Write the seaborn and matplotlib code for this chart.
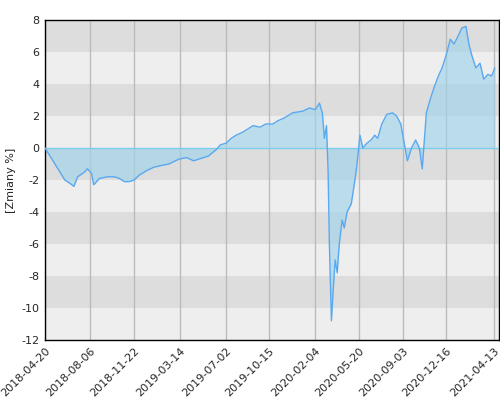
import matplotlib
matplotlib.use("Agg")
import matplotlib.pyplot as plt
import seaborn as sns
import pandas as pd
import numpy as np

start = pd.Timestamp("2018-04-20")
px = [45,50,55,60,65,70,74,78,85,88,92,94,100,108,115,120,125,130,135,140,148,155,162,170,180,188,195,200,210,218,222,228,233,238,245,250,255,262,268,275,280,287,295,305,312,318,322,325,327,329,331,332,334,336,338,340,342,345,347,350,354,358,360,363,366,370,374,378,381,385,390,396,400,404,407,411,415,419,423,426,430,434,438,442,446,450,454,458,462,466,470,473,476,480,484,488,492,496,499]
day_offsets = [round((p - 45) * 2.4) for p in px]
values = [0,-0.5,-1.0,-1.5,-2.0,-2.2,-2.4,-1.8,-1.5,-1.3,-1.6,-2.3,-1.9,-1.8,-1.8,-1.9,-2.1,-2.1,-2.0,-1.7,-1.4,-1.2,-1.1,-1.0,-0.7,-0.6,-0.8,-0.7,-0.5,-0.1,0.2,0.3,0.6,0.8,1.0,1.2,1.4,1.3,1.5,1.5,1.7,1.9,2.2,2.3,2.5,2.4,2.8,2.2,0.6,1.4,-1.5,-6,-10.8,-9,-7,-7.8,-6,-4.5,-5,-4,-3.5,-2,-1,0.8,0,0.3,0.5,0.8,0.6,1.5,2.1,2.2,2.0,1.5,0.5,-0.8,0,0.5,0,-1.3,2.2,3.1,3.8,4.5,5.0,5.8,6.8,6.5,7.0,7.5,7.6,6.5,5.8,5.0,5.3,4.3,4.6,4.5,5.0]
tick_labels = ["2018-04-20","2018-08-06","2018-11-22","2019-03-14","2019-07-02","2019-10-15","2020-02-04","2020-05-20","2020-09-03","2020-12-16","2021-04-13"]

dates = start + pd.to_timedelta(day_offsets, unit="D")
df = pd.DataFrame({"date": dates, "value": values})

sns.set_style("white")
fig = plt.figure(figsize=(5, 4), dpi=100)
ax = fig.add_axes([0.09, 0.15, 0.908, 0.80])
for lo in range(-12, 8, 2):
    ax.axhspan(lo, lo + 2, color="#dddddd" if (lo // 2) % 2 == 1 else "#eeeeee", zorder=0, lw=0)
tick_dates = pd.to_datetime(tick_labels)
for d in tick_dates:
    ax.axvline(d, color="#bbbbbb", lw=1, zorder=1)
ax.fill_between(df["date"], df["value"], 0, color="#9fd3ea", alpha=0.65, zorder=2, lw=0)
ax.axhline(0, color="#7fcdec", lw=1, zorder=3)
sns.lineplot(data=df, x="date", y="value", ax=ax, color="#5aa9f0", lw=1, zorder=4)
ax.set_ylim(-12, 8)
ax.set_xlim(start, start + pd.Timedelta(days=1100))
ax.set_yticks(range(-12, 9, 2))
ax.set_yticklabels([str(v) for v in range(-12, 9, 2)], fontsize=8)
ax.set_xticks(tick_dates)
ax.set_xticklabels(tick_labels, rotation=45, ha="right", rotation_mode="anchor", fontsize=8)
ax.set_xlabel("")
ax.set_ylabel("[Zmiany %]", fontsize=8)
for s in ax.spines.values():
    s.set_color("black"); s.set_linewidth(1)
ax.tick_params(length=0, pad=4)
fig.savefig("out.png", dpi=100)
